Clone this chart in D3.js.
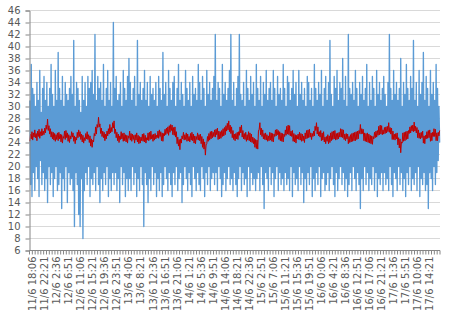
<!DOCTYPE html>
<html><head><meta charset="utf-8">
<script src="https://cdn.jsdelivr.net/npm/d3@7/dist/d3.min.js"></script>
<style>html,body{margin:0;padding:0;background:#fff;}svg{display:block;}</style>
</head><body>
<svg id="chart" width="450" height="325"></svg>
<script>
// Category tick labels (one every 17 samples, starting at sample 4)
const tickLabels = ["11/6 18:06","11/6 22:21","12/6 2:36","12/6 6:51","12/6 11:06","12/6 15:21","12/6 19:36","12/6 23:51","13/6 4:06","13/6 8:21","13/6 12:36","13/6 16:51","13/6 21:06","14/6 1:21","14/6 5:36","14/6 9:51","14/6 14:06","14/6 18:21","14/6 22:36","15/6 2:51","15/6 7:06","15/6 11:21","15/6 15:36","15/6 19:51","16/6 0:06","16/6 4:21","16/6 8:36","16/6 12:51","16/6 17:06","16/6 21:21","17/6 1:36","17/6 5:51","17/6 10:06","17/6 14:21"];
const labelStart = 4, labelStep = 17;
const yTicks = [6,8,10,12,14,16,18,20,22,24,26,28,30,32,34,36,38,40,42,44,46];

// Raw series (blue)
const rawValues = [
31,17,37,15,33,19,32,16,30,20,34,18,31,15,36,21,29,17,33,19,
35,16,31,18,34,14,30,20,33,17,37,19,32,15,30,18,36,20,31,16,
39,17,33,19,31,13,35,18,30,16,34,20,32,14,31,19,33,17,35,18,
32,16,41,10,30,19,34,17,33,12,31,10,29,18,35,8,31,16,34,19,
30,17,35,20,33,15,34,18,36,17,32,19,42,16,31,20,35,17,33,14,
34,18,31,16,37,19,30,17,33,20,36,15,31,18,34,16,30,19,44,17,
33,19,35,16,31,18,32,14,34,20,30,17,36,19,33,15,31,18,35,16,
38,18,34,16,31,20,33,17,35,19,30,15,41,18,32,16,34,20,31,17,
33,10,36,19,31,17,34,14,30,18,35,16,32,20,33,17,31,19,34,15,
30,18,35,16,33,19,31,15,39,17,32,20,34,18,30,16,36,19,33,17,
31,15,34,19,35,17,30,20,33,16,37,18,31,19,34,14,32,17,30,20,
36,18,33,16,31,19,34,17,30,15,35,20,32,18,33,16,31,19,37,17,
34,16,31,20,35,18,33,15,30,19,36,17,32,20,34,16,31,18,33,19,
35,17,42,19,31,16,34,20,33,18,30,15,37,17,32,19,34,16,31,18,
33,20,36,17,42,18,31,16,34,19,30,17,33,15,35,18,42,20,32,16,
31,19,34,17,30,18,36,15,33,20,31,16,35,19,32,17,34,18,30,16,
37,18,33,19,31,16,35,20,30,17,34,13,32,19,36,18,31,16,33,20,
34,17,31,19,36,15,33,18,30,20,35,16,32,19,33,17,31,18,37,16,
33,19,30,17,35,18,34,16,31,20,33,15,36,19,32,17,34,18,30,16,
36,20,32,17,34,19,31,14,33,18,30,16,35,19,34,17,31,20,33,15,
30,18,37,16,33,19,31,17,34,20,32,15,36,18,30,19,33,16,35,17,
31,19,34,16,41,18,32,20,30,17,35,15,33,19,36,16,31,18,34,20,
33,17,38,19,31,16,35,18,30,15,42,17,33,19,32,16,34,20,31,18,
36,16,33,19,30,17,34,13,32,18,35,16,31,20,33,17,37,19,30,16,
34,18,31,17,35,20,33,16,30,19,36,15,32,18,34,17,31,19,33,16,
35,19,32,17,30,18,34,16,42,20,33,17,31,15,36,19,32,18,34,16,
31,20,33,17,38,19,30,16,34,18,32,15,37,19,33,17,31,20,35,16,
33,18,41,17,31,19,34,16,30,20,36,15,32,18,34,17,39,19,31,16,
35,17,33,13,30,19,36,18,32,16,34,20,31,17,37,19,33,21,30,24
];

// Smoothed series (red)
const avgValues = [
24.2,25.4,24.6,25.8,24.4,25.6,24.9,26.1,24.8,25.5,24.3,25.9,25.0,26.2,24.7,25.8,25.1,26.3,25.2,25.9,
25.3,26.4,25.6,26.9,26.2,27.9,26.0,26.8,25.4,26.3,24.9,25.8,24.6,25.7,24.4,25.5,24.2,25.3,24.5,25.6,
24.3,25.7,24.6,25.4,24.1,25.3,23.9,25.0,24.7,25.9,24.5,26.0,24.8,25.6,24.2,25.3,24.0,25.1,24.6,25.8,
24.9,25.6,24.2,25.1,23.8,24.9,24.4,25.7,24.8,26.1,25.0,25.8,24.5,25.4,24.1,25.2,23.9,24.8,24.3,25.5,
24.6,25.8,24.5,25.3,24.0,25.1,23.4,24.6,23.2,24.4,24.1,25.5,25.1,26.6,25.4,27.0,26.5,28.2,26.6,27.1,
25.5,26.4,25.0,25.9,24.8,25.7,24.3,25.4,24.6,25.9,25.1,26.3,25.4,27.0,25.6,26.5,25.8,27.3,26.4,27.6,
25.5,26.2,24.8,25.7,24.3,25.4,24.0,25.1,24.5,25.8,24.6,25.5,24.2,25.6,24.3,25.3,24.1,25.2,23.9,25.1,
24.7,25.9,24.4,25.5,24.2,25.4,24.5,25.2,23.9,25.3,24.4,25.6,24.1,25.2,23.8,25.0,23.9,24.9,24.3,25.4,
24.2,25.5,24.1,25.2,23.9,24.8,24.4,25.6,24.3,25.7,24.5,25.9,24.6,25.3,24.2,25.4,24.4,25.5,24.6,25.2,
24.8,25.9,24.7,26.1,25.0,25.8,24.3,25.6,24.2,25.5,25.1,26.2,25.3,26.4,25.5,26.6,25.2,26.8,25.7,27.0,
26.0,26.9,25.3,26.5,25.2,26.6,24.9,25.8,23.8,24.9,23.4,24.5,22.8,24.6,23.9,25.1,24.6,25.7,24.4,25.3,
24.5,25.6,24.2,25.4,24.3,25.0,24.1,25.5,24.4,25.7,24.3,25.4,23.9,25.1,23.8,25.0,24.5,25.6,24.4,25.3,
24.3,25.4,23.8,25.0,23.2,24.6,22.9,24.1,21.9,23.6,23.8,25.0,24.2,25.5,24.4,25.8,24.6,25.9,24.8,25.7,
25.0,26.1,24.9,26.2,25.3,26.4,24.5,25.9,24.6,25.8,24.7,26.0,25.0,26.3,25.1,26.5,25.3,26.8,25.9,27.2,
26.1,27.6,25.8,26.9,25.5,26.6,24.8,26.0,24.5,25.4,24.3,25.5,24.6,25.7,24.5,25.8,25.2,26.6,25.6,26.9,
24.9,26.0,24.6,25.5,24.5,25.7,24.2,25.3,24.4,25.8,24.3,25.6,24.1,25.4,24.0,24.9,23.8,24.7,23.2,24.5,
23.0,24.4,22.9,25.9,26.2,27.3,25.3,26.4,25.0,26.1,24.6,25.5,24.5,25.6,24.4,25.3,24.2,25.1,24.3,25.7,
24.4,25.6,24.2,25.5,24.1,25.4,25.0,26.1,25.1,26.2,25.3,26.0,24.5,25.8,24.3,25.6,24.2,25.5,24.1,25.4,
25.0,26.1,25.2,26.7,25.4,26.9,25.3,26.8,25.1,25.9,25.0,26.0,24.2,25.5,24.1,25.3,23.9,25.2,24.6,25.4,
24.5,25.7,24.4,25.5,24.2,25.4,24.3,25.1,24.0,25.6,24.6,26.0,24.7,26.1,24.8,26.2,24.9,25.6,24.5,25.5,
25.0,25.9,25.1,26.7,26.0,27.3,25.4,26.6,25.1,25.8,24.9,26.0,24.3,25.6,24.4,25.8,24.1,24.9,23.8,25.0,
24.2,25.3,23.8,25.1,24.0,25.6,24.3,25.8,24.5,25.9,24.6,26.0,24.4,25.5,24.5,25.6,24.6,25.7,24.9,26.3,
24.9,26.2,24.8,26.1,24.5,25.4,24.3,25.5,24.6,25.4,23.8,25.0,24.0,25.3,24.1,25.5,24.2,25.6,24.3,25.7,
24.3,25.8,24.5,25.9,24.6,26.0,25.5,27.0,25.4,26.3,25.5,26.2,24.3,25.6,24.2,25.5,24.1,25.6,24.0,25.4,
23.9,25.2,23.8,25.1,23.7,25.0,24.6,25.7,24.8,25.9,24.9,26.0,25.2,26.7,25.3,26.9,25.4,26.8,25.3,26.1,
25.4,26.5,25.5,26.6,25.6,26.7,25.8,27.3,25.7,26.5,25.4,26.4,24.5,25.9,24.5,25.4,24.4,25.5,24.6,25.6,
23.6,24.8,23.1,24.6,22.3,24.1,23.9,25.6,24.2,25.7,24.3,25.8,24.5,25.9,24.6,26.0,25.5,26.6,25.6,26.8,
25.9,26.9,25.8,27.4,25.9,26.7,25.6,26.5,24.8,26.1,24.7,25.6,24.6,25.7,24.8,25.9,23.9,25.1,23.8,25.2,
24.6,25.8,24.7,26.0,24.8,26.1,24.2,25.6,24.3,25.7,25.0,26.3,25.0,26.2,24.3,25.6,24.3,25.7,25.1,26.0
];

const N = rawValues.length;
const svg = d3.select("#chart");
const plotLeft = 29.5, plotRight = 440, plotTop = 10.5, plotBottom = 250.5;

const x = d3.scaleLinear().domain([-0.5, N - 0.5]).range([plotLeft, plotRight]);
const y = d3.scaleLinear().domain([6, 46]).range([plotBottom, plotTop]);

// gridlines
svg.append("g").selectAll("line").data(yTicks.filter(d => d > 6)).join("line")
  .attr("x1", plotLeft).attr("x2", plotRight)
  .attr("y1", d => y(d)).attr("y2", d => y(d))
  .attr("stroke", "#d9d9d9").attr("stroke-width", 1);

// series
const line = d3.line().x((d, i) => x(i)).y(d => y(d));
svg.append("path").datum(rawValues).attr("d", line)
  .attr("fill", "none").attr("stroke", "#5b9bd5").attr("stroke-width", 1.35)
  .attr("stroke-linejoin", "round");
svg.append("path").datum(avgValues).attr("d", line)
  .attr("fill", "none").attr("stroke", "#c00000").attr("stroke-width", 1)
  .attr("stroke-linejoin", "round");

// y axis
const yAxis = d3.axisLeft(y).tickValues(yTicks).tickSize(4).tickPadding(5).tickFormat(d3.format("d"));
const gy = svg.append("g").attr("transform", `translate(${plotLeft},0)`).call(yAxis);
gy.select(".domain").attr("stroke", "#868686");
gy.selectAll(".tick line").attr("stroke", "#868686");
gy.selectAll("text").attr("fill", "#595959").style("font-family", "'DejaVu Sans', Verdana, sans-serif").style("font-size", "10px");

// x axis: minor ticks every 4 samples
const minorIdx = d3.range(0, N + 1, 4);
svg.append("g").selectAll("line").data(minorIdx).join("line")
  .attr("x1", d => x(d - 0.5)).attr("x2", d => x(d - 0.5))
  .attr("y1", plotBottom).attr("y2", plotBottom + 4)
  .attr("stroke", "#868686").attr("stroke-width", 1);
svg.append("line").attr("x1", plotLeft).attr("x2", plotRight).attr("y1", plotBottom).attr("y2", plotBottom)
  .attr("stroke", "#868686").attr("stroke-width", 1);

const xl = svg.append("g");
xl.selectAll("text").data(tickLabels).join("text")
  .attr("transform", (d, i) => `translate(${x(labelStart + i * labelStep)},${plotBottom + 6}) rotate(-90)`)
  .attr("dy", "0.35em")
  .attr("text-anchor", "end")
  .attr("fill", "#595959")
  .style("font-family", "'DejaVu Sans', Verdana, sans-serif")
  .style("font-size", "10px")
  .text(d => d);
</script>
</body></html>
